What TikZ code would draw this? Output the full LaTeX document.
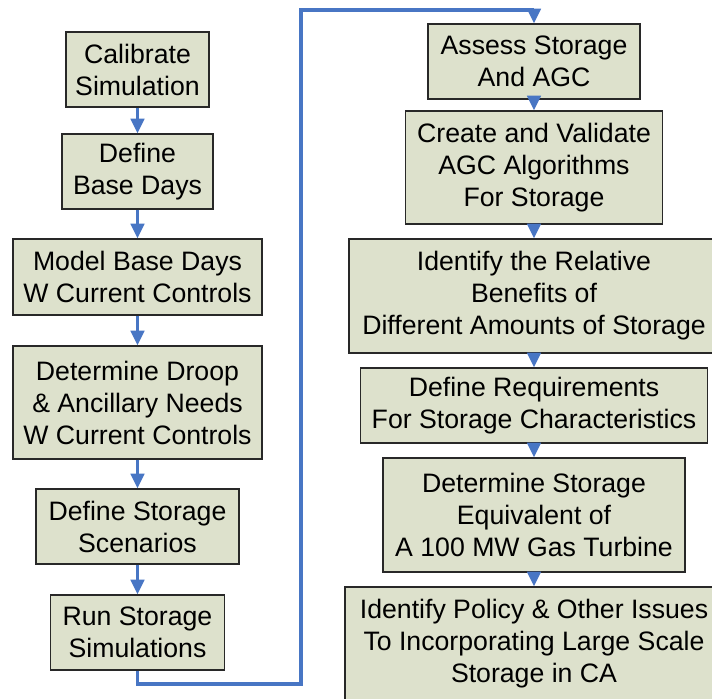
\documentclass[tikz,border=0pt]{standalone}
\usepackage{fontspec}
\setmainfont{Liberation Sans}
\usetikzlibrary{arrows.meta}
\definecolor{boxfill}{RGB}{221,225,204}
\definecolor{boxline}{RGB}{40,40,40}
\definecolor{arrblue}{RGB}{72,118,196}
\begin{document}
\begin{tikzpicture}[x=0.75pt,y=-0.75pt,
  box/.style={draw=boxline,line width=0.9pt,fill=boxfill,inner sep=0pt,align=center,
    font=\fontsize{20}{24}\selectfont},
  arr/.style={draw=arrblue,line width=2.5pt,-{Triangle[width=10pt,length=11pt]}}]
\useasboundingbox (0,0) rectangle (712,698);
\clip (0,0) rectangle (712,698);
\fill[white] (0,0) rectangle (712,698);
% left column
\node[box,minimum width=107.25pt,minimum height=56.25pt] (r1) at (137.5,69.5) {Calibrate\\Simulation};
\node[box,minimum width=113.25pt,minimum height=56.25pt] (r2) at (137.5,171.5) {Define\\Base Days};
\node[box,minimum width=186.75pt,minimum height=57pt] (r3) at (137.5,277) {Model Base Days\\W Current Controls};
\node[box,minimum width=186.75pt,minimum height=84.75pt] (r4) at (137.5,402.5) {Determine Droop\\\& Ancillary Needs\\W Current Controls};
\node[box,minimum width=152.25pt,minimum height=56.25pt] (r5) at (137.5,526.5) {Define Storage\\Scenarios};
\node[box,minimum width=130.5pt,minimum height=56.25pt] (r6) at (137.5,632.5) {Run Storage\\Simulations};
% right column
\node[box,minimum width=159pt,minimum height=56.25pt] (r7) at (534,61.5) {Assess Storage\\And AGC};
\node[box,minimum width=192.75pt,minimum height=84.75pt] (r8) at (534,167.5) {Create and Validate\\AGC Algorithms\\For Storage};
\node[box,minimum width=277.5pt,minimum height=85.5pt] (r9) at (534,296) {Identify the Relative\\Benefits of\\Different Amounts of Storage};
\node[box,minimum width=260.25pt,minimum height=56.25pt] (r10) at (534,405.5) {Define Requirements\\For Storage Characteristics};
\node[box,minimum width=226.5pt,minimum height=85.5pt] (r11) at (534,515) {Determine Storage\\Equivalent of\\A 100 MW Gas Turbine};
\node[box,minimum width=283.5pt,minimum height=84.75pt] (r12) at (534,643.5) {Identify Policy \& Other Issues\\To Incorporating Large Scale\\Storage in CA};
% connectors
\draw[arr] (r1) -- (r2);
\draw[arr] (r2) -- (r3);
\draw[arr] (r3) -- (r4);
\draw[arr] (r4) -- (r5);
\draw[arr] (r5) -- (r6);
\coordinate (ca) at (301,684);
\coordinate (cb) at (301,10);
\draw[arr] (r6.south) |- (ca) -- (cb) -| (r7.north);
\draw[arr] (r7) -- (r8);
\draw[arr] (r8) -- (r9);
\draw[arr] (r9) -- (r10);
\draw[arr] (r10) -- (r11);
\draw[arr] (r11) -- (r12);
\end{tikzpicture}
\end{document}
